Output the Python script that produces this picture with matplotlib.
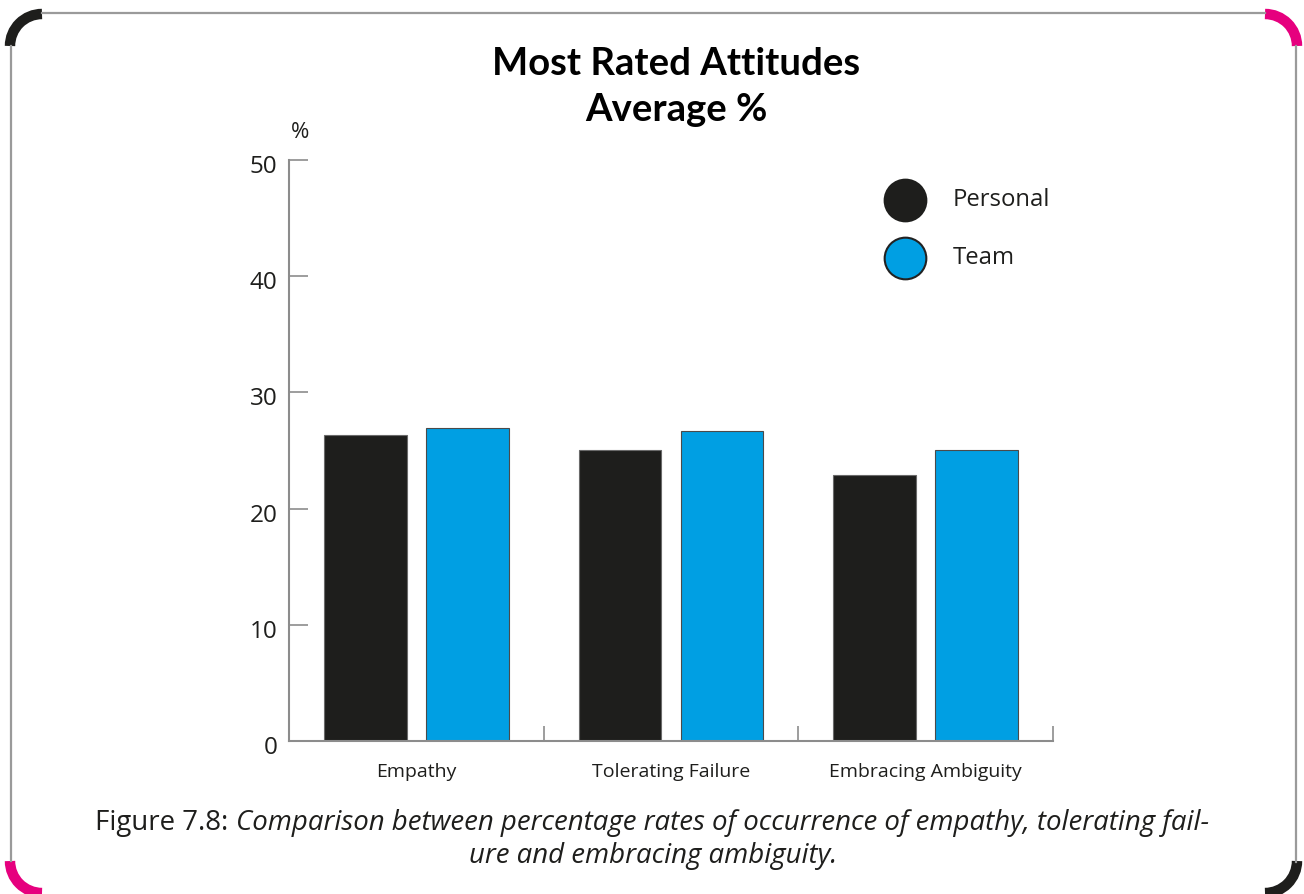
import matplotlib
matplotlib.use("Agg")
import matplotlib.pyplot as plt
from matplotlib.patches import Arc
from matplotlib.lines import Line2D
from matplotlib.transforms import offset_copy

categories = ["Empathy", "Tolerating Failure", "Embracing Ambiguity"]
personal = [26.3, 25.0, 22.9]
team = [26.9, 26.7, 25.0]
yticks = [0, 10, 20, 30, 40, 50]
series_names = ["Personal", "Team"]

BLACK = "#1e1e1c"
BLUE = "#009fe3"
PINK = "#e6007e"
GRAY = "#8c8c8c"
FONT = ["Open Sans", "DejaVu Sans"]
TITLE_FONT = ["Lato", "DejaVu Sans"]

W, H = 1304, 894
fig = plt.figure(figsize=(W / 100, H / 100), dpi=100)
fig.patch.set_facecolor("white")

# chart area
ax = fig.add_axes([289 / W, 1 - 741 / H, (1053 - 289) / W, (741 - 160) / H])
n = len(categories)
centers = [i + 0.5 for i in range(n)]
bw = 0.325
ax.bar([c - 0.2 for c in centers], personal, width=bw, color=BLACK,
       edgecolor="#6a6a6a", linewidth=0.8, zorder=2)
ax.bar([c + 0.2 for c in centers], team, width=bw, color=BLUE,
       edgecolor="#4a4a4a", linewidth=0.8, zorder=2)

ax.set_xlim(0, n)
ax.set_ylim(0, 50)
for s in ["top", "right"]:
    ax.spines[s].set_visible(False)
for s in ["left", "bottom"]:
    ax.spines[s].set_color(GRAY)
    ax.spines[s].set_linewidth(1.5)

ax.set_yticks(yticks)
ax.set_yticklabels([str(v) for v in yticks], family=FONT, fontsize=17.5, color=BLACK)
ax.tick_params(axis="y", direction="in", length=14, width=1.2, color=GRAY, pad=8.5)
# nudge the value labels slightly below their ticks
for lbl in ax.get_yticklabels():
    lbl.set_transform(offset_copy(lbl.get_transform(), fig=fig, x=0, y=-4, units="dots"))

ax.set_xticks(range(1, n + 1))
ax.set_xticklabels([""] * n)
ax.tick_params(axis="x", which="major", direction="in", length=11, width=1.2, color=GRAY)
ax.set_xticks(centers, minor=True)
ax.set_xticklabels(categories, minor=True, family=FONT, fontsize=14, color=BLACK)
ax.tick_params(axis="x", which="minor", length=0, pad=16)
ax.patch.set_alpha(0)

# unit label
fig.text(300 / W, 1 - 132 / H, "%", family=FONT, fontsize=16, color=BLACK,
         ha="center", va="center")

# title
fig.text(676 / W, 1 - 64 / H, "Most Rated Attitudes", family=TITLE_FONT,
         fontweight="bold", fontsize=27.5, color="black", ha="center", va="center")
fig.text(676 / W, 1 - 110 / H, "Average %", family=TITLE_FONT,
         fontweight="bold", fontsize=27.5, color="black", ha="center", va="center")

# legend
legend_colors = [BLACK, BLUE]
legend_edges = [BLACK, "#222222"]
legend_y = [200, 258]
for name, col, ec, yy in zip(series_names, legend_colors, legend_edges, legend_y):
    fig.add_artist(Line2D([905 / W], [1 - yy / H], marker="o", markersize=30,
                          markerfacecolor=col, markeredgecolor=ec,
                          markeredgewidth=1.5, transform=fig.transFigure))
    fig.text(953 / W, 1 - yy / H, name, family=FONT, fontsize=17.2, color=BLACK,
             ha="left", va="center")

# caption
cap_a = "Figure 7.8: "
cap_b = "Comparison between percentage rates of occurrence of empathy, tolerating fail-"
cap_c = "ure and embracing ambiguity."
t1 = fig.text(0, 1 - 823 / H, cap_a, family=FONT, fontsize=19.9, color=BLACK,
              ha="left", va="center")
t2 = fig.text(0, 1 - 823 / H, cap_b, family=FONT, fontsize=19.9, style="italic",
              color=BLACK, ha="left", va="center")
fig.text(653 / W, 1 - 856 / H, cap_c, family=FONT, fontsize=19.9, style="italic",
         color=BLACK, ha="center", va="center")
fig.canvas.draw()
r = fig.canvas.get_renderer()
w1 = t1.get_window_extent(r).width
w2 = t2.get_window_extent(r).width
x0 = 652 - (w1 + w2) / 2
t1.set_x(x0 / W)
t2.set_x((x0 + w1) / W)

# page frame with rounded coloured corners
def fx(px):
    return px / W

def fy(py):
    return 1 - py / H

frame_kw = dict(color="#9a9a9a", linewidth=1.6, transform=fig.transFigure)
fig.add_artist(Line2D([fx(42), fx(1265)], [fy(13), fy(13)], **frame_kw))
fig.add_artist(Line2D([fx(11), fx(11)], [fy(46), fy(861)], **frame_kw))
fig.add_artist(Line2D([fx(1296), fx(1296)], [fy(46), fy(862)], **frame_kw))

R = 32
corner_specs = [
    ((42, 46), 90, 180, BLACK),
    ((1265, 46), 0, 90, PINK),
    ((42, 861), 180, 270, PINK),
    ((1265, 861), 270, 360, BLACK),
]
for (cx, cy), a0, a1, col in corner_specs:
    fig.add_artist(Arc((fx(cx), fy(cy)), 2 * R / W, 2 * R / H, theta1=a0, theta2=a1,
                       color=col, linewidth=7.5, transform=fig.transFigure,
                       capstyle="butt"))

fig.savefig("out.png", dpi=100, facecolor="white")
